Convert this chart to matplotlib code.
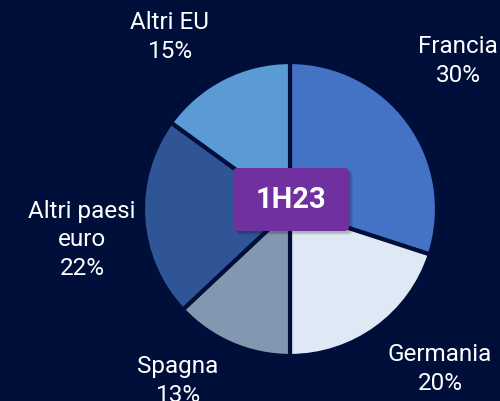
import matplotlib.pyplot as plt
from matplotlib.patches import FancyBboxPatch

plt.rcParams['font.family'] = ['Roboto', 'DejaVu Sans']

# data
countries = ["Francia", "Germania", "Spagna", "Altri paesi\neuro", "Altri EU"]
shares = [30, 20, 13, 22, 15]
colors = ["#4472C4", "#DEE9F5", "#8497B0", "#2F5597", "#5B9BD5"]
period = "1H23"

bg = "#000F3A"

fig = plt.figure(figsize=(5, 4.01), dpi=100, facecolor=bg)
ax = fig.add_axes([0, 0, 1, 1])
ax.set_facecolor(bg)

ax.pie(shares, colors=colors, startangle=90, counterclock=False, radius=1.0,
       wedgeprops=dict(edgecolor=bg, linewidth=3))

# pie centred at roughly (290, 209) px, radius ~147 px
r_px = 147.0
cy = 209
ax.set_aspect('auto')
ax.set_xlim(-290 / r_px, 210 / r_px)
ax.set_ylim(-(401 - cy) / r_px, cy / r_px)
ax.axis('off')

def to_data(px, py):
    return (px - 290) / r_px, (cy - py) / r_px

# label positions (pixel coords of label centre)
label_px = [(458, 61), (440, 369), (178, 381), (82, 240), (170, 37)]
for name, val, (px, py) in zip(countries, shares, label_px):
    x, y = to_data(px, py)
    ax.text(x, y, f"{name}\n{val}%", ha='center', va='center', color='white',
            fontsize=17.5, linespacing=1.32)

# central period box with soft shadow
bx0, bx1, by0, by1 = 233, 349, 168, 231
x0, y1 = to_data(bx0, by0)
x1, y0 = to_data(bx1, by1)
for i, a in enumerate([0.10, 0.08, 0.06]):
    off = (i + 2) / r_px
    sh = FancyBboxPatch((x0 + off, y0 - off), x1 - x0, y1 - y0,
                        boxstyle="round,pad=0,rounding_size=0.03",
                        facecolor='black', edgecolor='none', alpha=a, zorder=4)
    ax.add_patch(sh)
box = FancyBboxPatch((x0, y0), x1 - x0, y1 - y0,
                     boxstyle="round,pad=0,rounding_size=0.03",
                     facecolor="#7030A0", edgecolor='none', zorder=5)
ax.add_patch(box)
ax.text((x0 + x1) / 2, (y0 + y1) / 2, period, ha='center', va='center',
        color='white', fontsize=21, fontweight='bold', zorder=6)

fig.savefig("out.png", dpi=100, facecolor=bg)
